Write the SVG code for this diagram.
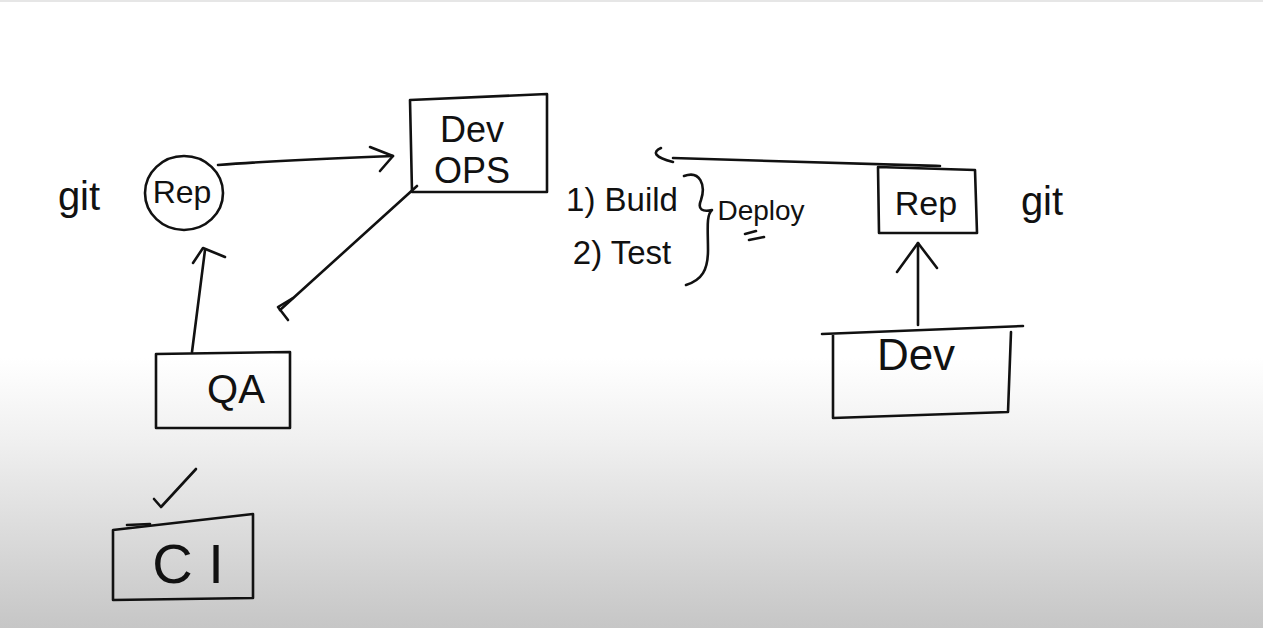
<svg xmlns="http://www.w3.org/2000/svg" width="1263" height="628" viewBox="0 0 1263 628">
<defs>
<linearGradient id="bg" x1="0" y1="0" x2="0" y2="1">
<stop offset="0" stop-color="#ffffff"/>
<stop offset="0.57" stop-color="#ffffff"/>
<stop offset="0.7" stop-color="#f0f0f0"/>
<stop offset="1" stop-color="#c6c6c6"/>
</linearGradient>
<style>
.s{fill:none;stroke:#111;stroke-width:2.6;stroke-linecap:round;stroke-linejoin:round}
.t{font-family:"Liberation Sans","DejaVu Sans",sans-serif;fill:#111;text-anchor:middle}
</style>
</defs>
<rect width="1263" height="628" fill="url(#bg)"/>
<rect width="1263" height="2" fill="#e6e6e6"/>

<g id="connectors">
<path class="s" d="M218,165 C280,160 340,158 393,156"/>
<path class="s" d="M370,147 L393,156 L380,171"/>
<path class="s" d="M417,186 L280,310"/>
<path class="s" d="M293,298 L278,307 L288,320"/>
<path class="s" d="M192,352 L205,250"/>
<path class="s" d="M193,263 L203,248 L225,257"/>
<path class="s" d="M673,158 C760,160 850,164 940,166"/>
<path class="s" d="M661,148 C652,152 654,157 673,162"/>
<path class="s" d="M918,325 L918,243"/>
<path class="s" d="M897,272 L918,243 L937,268"/>
</g>

<g id="git-left"><text class="t" x="79" y="210" font-size="40">git</text></g>
<g id="rep-left">
<ellipse class="s" cx="184" cy="193" rx="39" ry="37"/>
<text class="t" x="182" y="203" font-size="32">Rep</text>
</g>
<g id="devops">
<path class="s" d="M410,100 L547,94 L547,192 L412,192 Z"/>
<text class="t" x="472" y="142" font-size="36">Dev</text>
<text class="t" x="472" y="183" font-size="36">OPS</text>
</g>
<g id="qa">
<path class="s" d="M156,354 L290,352 L290,428 L156,428 Z"/>
<text class="t" x="236" y="403" font-size="40">QA</text>
</g>
<g id="check"><path class="s" d="M154,499 L161,507 L196,469"/></g>
<g id="ci">
<path class="s" d="M113,530 L253,514 L253,598 L113,600 Z"/>
<path class="s" d="M127,525 L150,524"/>
<text class="t" x="188" y="583" font-size="56">C I</text>
</g>
<g id="steps">
<text class="t" x="622" y="211" font-size="33">1) Build</text>
<text class="t" x="622" y="264" font-size="33">2) Test</text>
<path class="s" d="M684,176 C700,170 706,185 701,200 C697,210 703,212 712,210 C706,215 708,230 708,250 C708,270 702,280 686,285"/>
<text class="t" x="761" y="220" font-size="28">Deploy</text>
<path class="s" d="M745,234 L756,231 M749,240 L764,237"/>
</g>
<g id="rep-right">
<path class="s" d="M878,167 L975,170 L977,233 L879,233 Z"/>
<text class="t" x="926" y="215" font-size="34">Rep</text>
</g>
<g id="git-right"><text class="t" x="1042" y="215" font-size="40">git</text></g>
<g id="dev">
<path class="s" d="M822,334 L1023,326 M833,334 L833,418 L1008,412 M1011,332 L1008,412"/>
<text class="t" x="916" y="370" font-size="44">Dev</text>
</g>
</svg>
